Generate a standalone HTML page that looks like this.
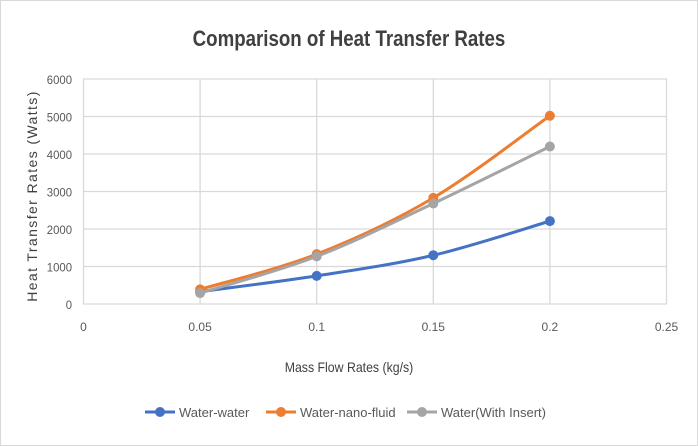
<!DOCTYPE html>
<html><head><meta charset="utf-8"><style>
body{margin:0;background:#fff;}
svg{display:block;font-family:"Liberation Sans",sans-serif;}
</style></head><body>
<svg id="c" width="698" height="446">
<rect x="0.5" y="0.5" width="697" height="445" fill="#fff" stroke="#d9d9d9"/>
<text x="349" y="46" text-anchor="middle" font-size="22" font-weight="bold" fill="#404040" transform="translate(349 0) scale(0.85 1) translate(-349 0)">Comparison of Heat Transfer Rates</text>
<g id="grid"></g><g id="series"></g>
<text x="349" y="372" text-anchor="middle" font-size="14" fill="#404040" transform="translate(349 0) scale(0.88 1) translate(-349 0)">Mass Flow Rates (kg/s)</text>
<text transform="translate(37 196) rotate(-90)" text-anchor="middle" font-size="14" letter-spacing="1.4" fill="#404040">Heat Transfer Rates (Watts)</text>
<g id="legend"></g>
</svg>
<script>
const xTicks=[0,0.05,0.1,0.15,0.2,0.25];
const xTickLabels=["0","0.05","0.1","0.15","0.2","0.25"];
const yTicks=[0,1000,2000,3000,4000,5000,6000];
const xValues=[0.05,0.1,0.15,0.2];
const waterWater=[330,750,1300,2210];
const waterNano=[390,1330,2830,5020];
const waterInsert=[290,1270,2680,4200];
const seriesNames=["Water-water","Water-nano-fluid","Water(With Insert)"];
const colors=["#4472c4","#ed7d31","#a5a5a5"];
const NS="http://www.w3.org/2000/svg";
const X=v=>83.5+v/0.25*583;
const Y=v=>304-v/6000*225;
function mk(t,a,p){const e=document.createElementNS(NS,t);for(const k in a)e.setAttribute(k,a[k]);p.appendChild(e);return e;}
const g=document.getElementById('grid');
yTicks.forEach(t=>{
 const l=mk('line',{x1:83,x2:667,y1:Y(t),y2:Y(t),stroke:'#d9d9d9','stroke-width':1.3},g);
 
 
 const tx=mk('text',{x:72,y:Y(t)+5,'text-anchor':'end','font-size':12,fill:'#595959',textLength:String(t).length*6.3,lengthAdjust:'spacingAndGlyphs'},g);
 tx.textContent=t;
 
 
});
xTicks.forEach((t,i)=>{
 const l=mk('line',{x1:X(t),x2:X(t),y1:Y(6000),y2:Y(0),stroke:'#d9d9d9','stroke-width':1.3},g);
 
 
 const tx=mk('text',{x:X(t),y:331,'text-anchor':'middle','font-size':12,fill:'#595959'},g);
 tx.textContent=xTickLabels[i];
 
 
});
const s=document.getElementById('series');
[waterWater,waterNano,waterInsert].forEach((vals,si)=>{
 const pts=xValues.map((x,i)=>[X(x),Y(vals[i])]);
 let d=`M${pts[0][0]},${pts[0][1]}`;
 for(let i=0;i<pts.length-1;i++){
  const p0=pts[Math.max(i-1,0)],p1=pts[i],p2=pts[i+1],p3=pts[Math.min(i+2,pts.length-1)];
  const c1=[p1[0]+(p2[0]-p0[0])/6,p1[1]+(p2[1]-p0[1])/6],c2=[p2[0]-(p3[0]-p1[0])/6,p2[1]-(p3[1]-p1[1])/6];
  d+=` C${c1[0]},${c1[1]} ${c2[0]},${c2[1]} ${p2[0]},${p2[1]}`;
 }
 const p=mk('path',{d,fill:'none',stroke:colors[si],'stroke-width':3},s);
 
 
 pts.forEach(q=>{
  const c=mk('circle',{cx:q[0],cy:q[1],r:5,fill:colors[si]},s);
  
  
 });
});
const lg=document.getElementById('legend');
const lx=[145,266,407];
seriesNames.forEach((n,i)=>{
 const l=mk('line',{x1:lx[i],x2:lx[i]+30,y1:412,y2:412,stroke:colors[i],'stroke-width':3},lg);
 
 
 const c=mk('circle',{cx:lx[i]+15,cy:412,r:5,fill:colors[i]},lg);
 
 
 const t=mk('text',{x:lx[i]+34,y:417,'font-size':13,fill:'#595959'},lg);
 t.textContent=n;
 
 
});
</script>
</body></html>
